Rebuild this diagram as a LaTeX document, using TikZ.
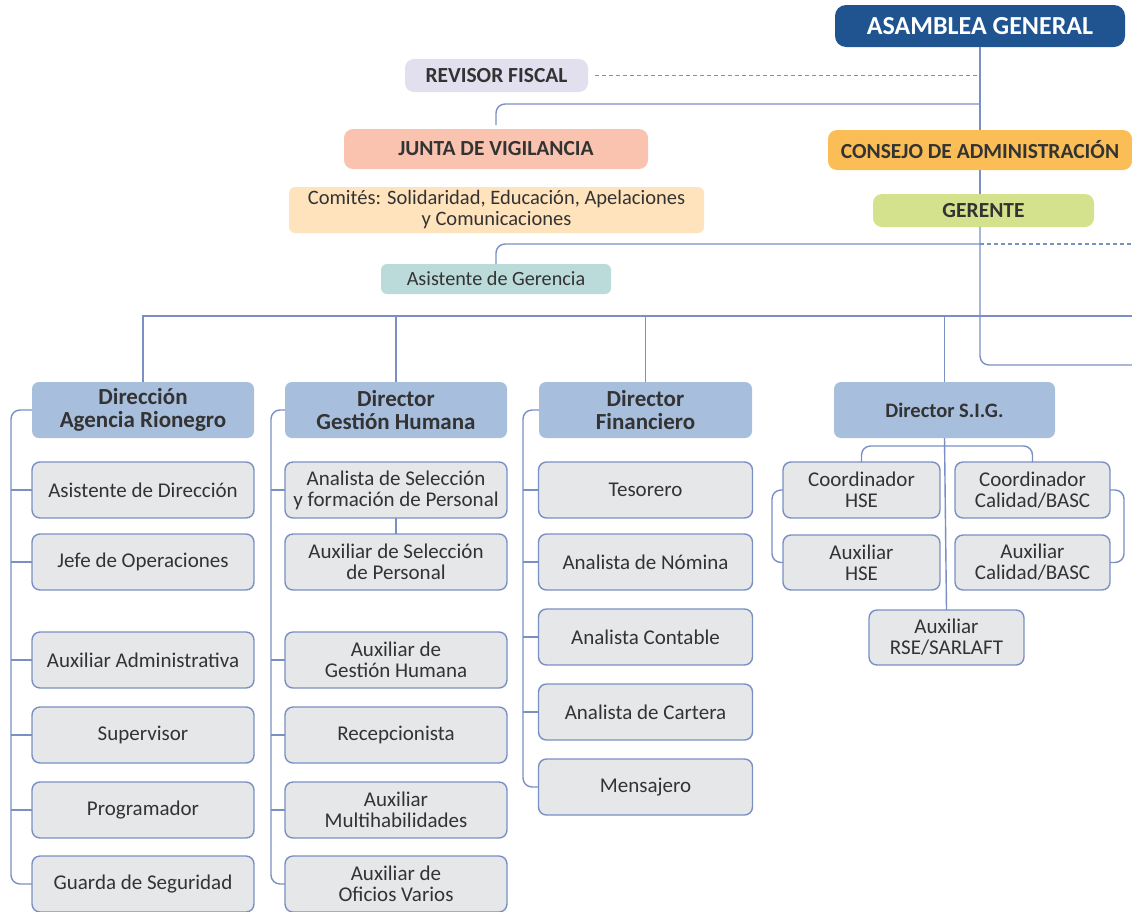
\documentclass[tikz,border=0pt]{standalone}
\usepackage{fontspec}
\setmainfont{Carlito}
\usepackage{tikz}
\usetikzlibrary{positioning}
\usetikzlibrary{calc}
\definecolor{textgray}{RGB}{51,51,51}
\definecolor{linkblue}{RGB}{122,143,196}
\definecolor{asambleablue}{RGB}{31,84,145}
\definecolor{revisorlila}{RGB}{226,223,239}
\definecolor{juntasalmon}{RGB}{249,195,175}
\definecolor{consejoorange}{RGB}{251,190,87}
\definecolor{comitespeach}{RGB}{254,227,189}
\definecolor{gerentegreen}{RGB}{213,226,141}
\definecolor{asistenteteal}{RGB}{187,218,218}
\definecolor{directorblue}{RGB}{168,190,221}
\definecolor{postgray}{RGB}{230,231,232}
\tikzset{organ/.style={rectangle, rounded corners=9pt, inner sep=0pt, outer sep=0pt, align=center, text=textgray, font=\fontsize{21.5}{23}\selectfont\bfseries}}
\tikzset{director/.style={rectangle, rounded corners=7pt, inner sep=0pt, outer sep=0pt, align=center, fill=directorblue, text=textgray, minimum width=222pt, minimum height=56pt, font=\fontsize{23}{22.5}\selectfont\bfseries}}
\tikzset{post/.style={draw=linkblue, line width=1.4pt, rectangle, rounded corners=8pt, inner sep=0pt, outer sep=0pt, align=center, fill=postgray, text=textgray, minimum width=222pt, minimum height=56pt, font=\fontsize{21}{21}\selectfont}}
\tikzset{link/.style={draw=linkblue, line width=1.4pt, rounded corners=9pt}}
\tikzset{dotted link/.style={draw=linkblue, line width=1.8pt, dash pattern=on 3.5pt off 3.5pt}}

\begin{document}
\begin{tikzpicture}[x=1pt, y=-1pt, node distance=16pt]
\useasboundingbox (0,0) rectangle (1132,911);

\node[organ, fill=asambleablue, text=white, minimum width=290pt, minimum height=42pt, rounded corners=11pt, font=\fontsize{26}{28}\selectfont\bfseries] (asamblea) at (980,26) {ASAMBLEA GENERAL};
\node[organ, fill=revisorlila, minimum width=183pt, minimum height=33pt] (revisor) at (496.5,75.5) {REVISOR FISCAL};
\node[organ, fill=juntasalmon, minimum width=304pt, minimum height=40pt] (junta) at (496,149) {JUNTA DE VIGILANCIA};
\node[organ, fill=consejoorange, minimum width=304pt, minimum height=40pt] (consejo) at (980,150) {CONSEJO DE ADMINISTRACIÓN};
\node[organ, fill=comitespeach, minimum width=415pt, minimum height=46pt, rounded corners=6pt, font=\fontsize{20.5}{21}\selectfont] (comites) at (496.5,210) {Comités: Solidaridad, Educación, Apelaciones\\y Comunicaciones};
\node[organ, fill=gerentegreen, minimum width=221pt, minimum height=33pt] (gerente) at (983.5,210.5) {GERENTE};
\node[organ, fill=asistenteteal, minimum width=230pt, minimum height=30pt, rounded corners=6pt, font=\fontsize{20.2}{21}\selectfont] (asistente) at (496,279) {Asistente de Gerencia};

\coordinate (jv) at (980,104);
\coordinate (ag) at (980,244);
\coordinate (bus) at (980,316);
\coordinate (exit) at (1132,365);

\draw[link] (asamblea.south) -- (consejo.north);
\draw[link] (consejo.south) -- (consejo.south |- gerente.north);
\draw[link] (gerente.south -| asamblea.south) |- (exit);
\draw[dotted link] ([xshift=7pt]revisor.east) -- (revisor.east -| asamblea.south);
\draw[link] (jv) -| ([yshift=4pt]junta.north);
\draw[link] (ag) -| (asistente.north);
\draw[dotted link] (ag) -- (ag -| exit);

\node[director] (dir1) at (143,410) {Dirección\\Agencia Rionegro};
\node[director, right=31pt of dir1] (dir2) {Director\\Gestión Humana};
\node[director, right=32pt of dir2, minimum width=213pt] (dir3) {Director\\Financiero};
\node[director, font=\fontsize{20.5}{22}\selectfont\bfseries, minimum width=221pt] (dir4) at (944.5,410) {Director S.I.G.};

\draw[link, rounded corners=0pt] (dir1.north) |- (bus -| exit);
\draw[link] (dir2.north) -- (dir2.north |- bus);
\draw[link] (dir3.north) -- (dir3.north |- bus);
\draw[link] (dir4.north) -- (dir4.north |- bus);

\node[post, below=24pt of dir1] (p11) {Asistente de Dirección};
\node[post, below=of p11] (p12) {Jefe de Operaciones};
\node[post, below=42pt of p12] (p13) {Auxiliar Administrativa};
\node[post, below=19pt of p13] (p14) {Supervisor};
\node[post, below=19pt of p14] (p15) {Programador};
\node[post, below=18pt of p15] (p16) {Guarda de Seguridad};

\node[post, below=24pt of dir2] (p21) {Analista de Selección\\y formación de Personal};
\node[post, below=of p21] (p22) {Auxiliar de Selección\\de Personal};
\node[post, below=42pt of p22] (p23) {Auxiliar de\\Gestión Humana};
\node[post, below=19pt of p23] (p24) {Recepcionista};
\node[post, below=19pt of p24] (p25) {Auxiliar\\Multihabilidades};
\node[post, below=18pt of p25] (p26) {Auxiliar de\\Oficios Varios};

\node[post, below=24pt of dir3, minimum width=214pt] (p31) {Tesorero};
\node[post, below=of p31, minimum width=214pt] (p32) {Analista de Nómina};
\node[post, below=19pt of p32, minimum width=214pt] (p33) {Analista Contable};
\node[post, below=19pt of p33, minimum width=214pt] (p34) {Analista de Cartera};
\node[post, below=19pt of p34, minimum width=214pt] (p35) {Mensajero};

\node[post, minimum width=157pt] (chse) at (861.5,490) {Coordinador\\HSE};
\node[post, minimum width=157pt, minimum height=55pt] (ahse) at (861.5,562.5) {Auxiliar\\HSE};
\node[post, minimum width=155pt] (ccal) at (1032.5,490) {Coordinador\\Calidad/BASC};
\node[post, minimum width=155pt, minimum height=55pt] (acal) at (1032.5,562.5) {Auxiliar\\Calidad/BASC};
\node[post, minimum width=155pt, minimum height=55pt] (rse) at (946.5,637.5) {Auxiliar\\RSE/SARLAFT};

\draw[link] (dir1.west) -- ++(-21,0) |- (p16.west);
\foreach \p in {p11,p12,p13,p14,p15} \draw[link] (\p.west) -- ++(-21,0);
\draw[link] (dir2.west) -- ++(-14,0) |- (p26.west);
\foreach \p in {p21,p23,p24,p25} \draw[link] (\p.west) -- ++(-14,0);
\draw[link] (p21) -- (p22);
\draw[link] (dir3.west) -- ++(-16,0) |- (p35.west);
\foreach \p in {p31,p32,p33,p34} \draw[link] (\p.west) -- ++(-16,0);

\draw[link] (dir4.south) -- (rse.north);
\draw[link] (chse.north) -- ++(0,-16) -| (ccal.north);
\draw[link] (chse.west) -- ++(-11,0) |- (ahse.west);
\draw[link] (ccal.east) -- ++(14,0) |- (acal.east);
\end{tikzpicture}
\end{document}
